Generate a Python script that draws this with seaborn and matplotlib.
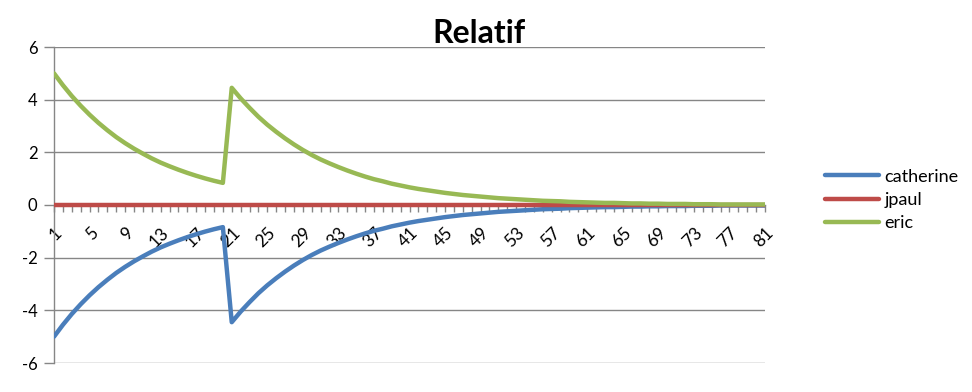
import matplotlib
matplotlib.use("Agg")
import matplotlib.pyplot as plt
import seaborn as sns
import pandas as pd
import numpy as np

categories = list(range(1, 82))

eric = [5.00, 4.55, 4.14, 3.77, 3.43, 3.12, 2.84, 2.58, 2.35, 2.14,
        1.95, 1.77, 1.61, 1.47, 1.34, 1.22, 1.11, 1.01, 0.92, 0.84,
        4.45, 4.05, 3.69, 3.35, 3.05, 2.78, 2.53, 2.30, 2.09, 1.90,
        1.73, 1.58, 1.44, 1.31, 1.19, 1.08, 0.98, 0.90, 0.81, 0.74,
        0.67, 0.61, 0.56, 0.51, 0.46, 0.42, 0.38, 0.35, 0.32, 0.29,
        0.26, 0.24, 0.22, 0.20, 0.18, 0.16, 0.15, 0.14, 0.12, 0.11,
        0.10, 0.09, 0.08, 0.08, 0.07, 0.06, 0.06, 0.05, 0.05, 0.04,
        0.04, 0.04, 0.03, 0.03, 0.03, 0.02, 0.02, 0.02, 0.02, 0.02,
        0.02]
catherine = [-5.00, -4.55, -4.14, -3.77, -3.43, -3.12, -2.84, -2.58, -2.35, -2.14,
             -1.95, -1.77, -1.61, -1.47, -1.34, -1.22, -1.11, -1.01, -0.92, -0.84,
             -4.45, -4.05, -3.69, -3.35, -3.05, -2.78, -2.53, -2.30, -2.09, -1.90,
             -1.73, -1.58, -1.44, -1.31, -1.19, -1.08, -0.98, -0.90, -0.81, -0.74,
             -0.67, -0.61, -0.56, -0.51, -0.46, -0.42, -0.38, -0.35, -0.32, -0.29,
             -0.26, -0.24, -0.22, -0.20, -0.18, -0.16, -0.15, -0.14, -0.12, -0.11,
             -0.10, -0.09, -0.08, -0.08, -0.07, -0.06, -0.06, -0.05, -0.05, -0.04,
             -0.04, -0.04, -0.03, -0.03, -0.03, -0.02, -0.02, -0.02, -0.02, -0.02,
             -0.02]
jpaul = [0.0] * 81

series_names = ["catherine", "jpaul", "eric"]
colors = ["#4A7EBB", "#BE4B48", "#98B954"]
x_tick_labels = [str(v) for v in range(1, 82, 4)]
y_ticks = [-6, -4, -2, 0, 2, 4, 6]

df = pd.concat([
    pd.DataFrame({"x": categories, "y": catherine, "series": "catherine"}),
    pd.DataFrame({"x": categories, "y": jpaul, "series": "jpaul"}),
    pd.DataFrame({"x": categories, "y": eric, "series": "eric"}),
], ignore_index=True)

sns.set_style("white")
plt.rcParams["font.family"] = ["Lato", "DejaVu Sans"]
plt.rcParams["text.color"] = "black"
plt.rcParams["xtick.labelcolor"] = "black"
plt.rcParams["ytick.labelcolor"] = "black"

fig = plt.figure(figsize=(9.72, 3.92), dpi=100)
ax = fig.add_axes([54 / 972, 1 - 363 / 392, (765 - 54) / 972, (363 - 47) / 392])

grey = "#868686"
for yv in y_ticks:
    ax.axhline(yv, color=grey, lw=1.0, zorder=0)

sns.lineplot(data=df, x="x", y="y", hue="series", hue_order=series_names,
             palette=colors, linewidth=3.2, ax=ax, legend=True, sort=False,
             zorder=3)

ax.set_xlim(1, 81)
ax.set_ylim(-6, 6)
ax.set_xlabel("")
ax.set_ylabel("")

ax.spines["top"].set_visible(False)
ax.spines["right"].set_visible(False)
ax.spines["bottom"].set_position(("data", 0))
ax.spines["bottom"].set_color(grey)
ax.spines["left"].set_color(grey)
ax.spines["left"].set_linewidth(1.0)
ax.spines["bottom"].set_linewidth(1.0)

ax.set_yticks(y_ticks)
ax.set_yticklabels([str(v) for v in y_ticks], fontsize=12, color="black")
ax.tick_params(axis="y", direction="out", length=7, color=grey, width=1, pad=5, left=True)

ax.set_xticks(list(range(1, 82, 4)))
ax.set_xticks(categories, minor=True)
ax.set_xticklabels(x_tick_labels, fontsize=12.5, rotation=45, ha="right",
                   rotation_mode="anchor", color="black")
ax.tick_params(axis="x", which="both", direction="out", length=5, color=grey,
               width=1, pad=9, bottom=True)

handles, labels = ax.get_legend_handles_labels()
leg = ax.legend(handles, labels, loc="center left", bbox_to_anchor=(825 / 972, 1 - 200 / 392),
                bbox_transform=fig.transFigure, frameon=False, fontsize=13,
                handlelength=3.0, handletextpad=0.3, labelspacing=0.4,
                borderpad=0, borderaxespad=0)
for t in leg.get_texts():
    t.set_color("black")

fig.text(479 / 972, 1 - 43 / 392, "Relatif", fontsize=23, fontweight="bold",
         ha="center", va="baseline", color="black")

fig.savefig("out.png", dpi=100)
